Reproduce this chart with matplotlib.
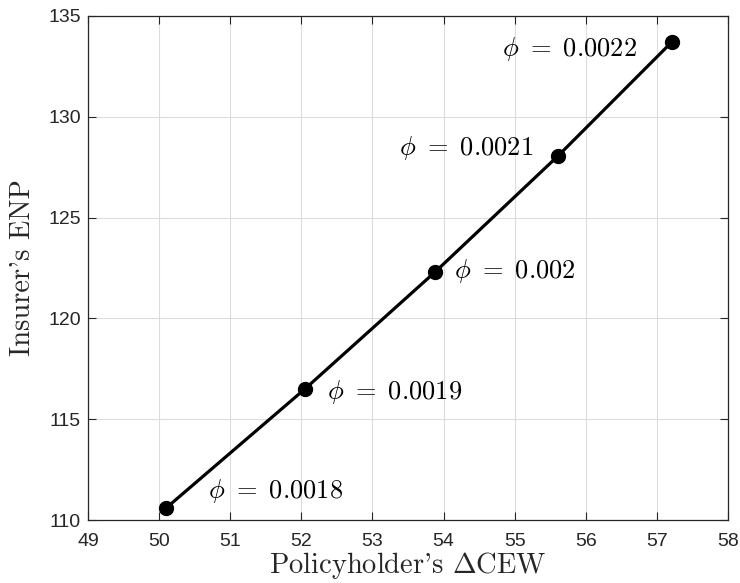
import matplotlib
matplotlib.use("Agg")
import matplotlib.pyplot as plt
import numpy as np

# Data
cew = [50.10, 52.05, 53.88, 55.61, 57.21]
enp = [110.60, 116.50, 122.30, 128.06, 133.71]
phi_labels = ["0.0018", "0.0019", "0.002", "0.0021", "0.0022"]
x_ticks = [49, 50, 51, 52, 53, 54, 55, 56, 57, 58]
y_ticks = [110, 115, 120, 125, 130, 135]

plt.rcParams['mathtext.fontset'] = 'cm'

fig = plt.figure(figsize=(7.4, 5.83), dpi=100)
ax = fig.add_axes([0.1189, 0.108, 0.8649, 0.8646])

ax.plot(cew, enp, color='black', lw=2.3, marker='o', markersize=10, zorder=3)

# label offsets in points (dx, dy, ha)
offsets = [(30, 12, 'left'), (16, -2, 'left'), (14, 1, 'left'), (-18, 6, 'right'), (-25, -5, 'right')]
for x, y, lab, (dx, dy, ha) in zip(cew, enp, phi_labels, offsets):
    ax.annotate(r"$\phi\ =\ %s$" % lab, (x, y), xytext=(dx, dy), textcoords='offset points',
                ha=ha, va='center', fontsize=19)

ax.set_xlim(49, 58)
ax.set_ylim(110, 135)
ax.set_xticks(x_ticks)
ax.set_yticks(y_ticks)
ax.grid(True, color='#dcdcdc', lw=0.8)
ax.set_axisbelow(True)

dark = '#262626'
for s in ax.spines.values():
    s.set_color(dark)
    s.set_linewidth(0.9)
ax.tick_params(direction='in', length=5.5, width=0.8, top=True, right=True,
               colors=dark, labelsize=14, pad=5)
ax.tick_params(axis='x', pad=9)
for lab in ax.get_xticklabels() + ax.get_yticklabels():
    lab.set_family('Liberation Sans')

ax.set_xlabel("Policyholder's $\\Delta$CEW", family='cmr10', fontsize=20.5, color=dark, labelpad=0)
ax.set_ylabel("Insurer's ENP", family='cmr10', fontsize=20.5, color=dark, labelpad=9)

fig.savefig("out.png", dpi=100)
